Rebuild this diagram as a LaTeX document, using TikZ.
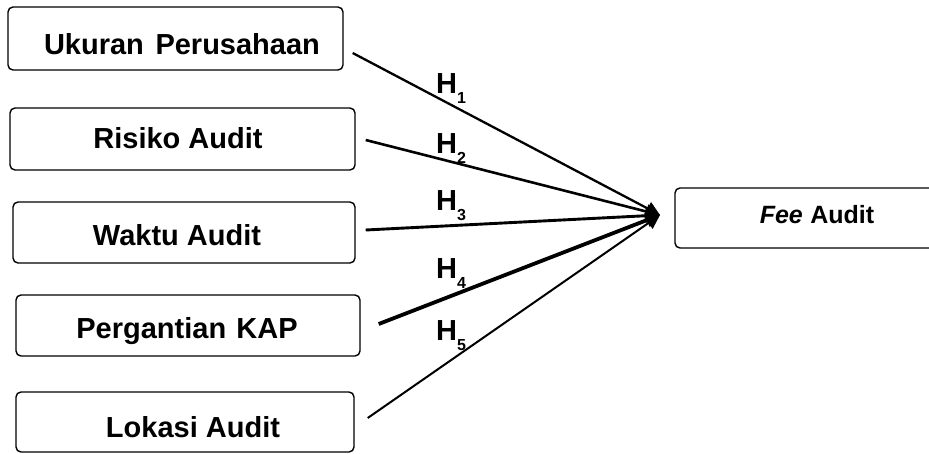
\documentclass[tikz,border=0pt]{standalone}
\usepackage{fontspec}
\setmainfont{Liberation Sans}
\usetikzlibrary{arrows.meta,calc}
\tikzset{
  box/.style={draw=black, line width=1.4pt, rounded corners=5pt, inner sep=0pt, fill=white},
  lbl/.style={font=\fontsize{29}{29}\selectfont\bfseries, inner sep=0pt, anchor=base},
  hyp/.style={font=\fontsize{29}{29}\selectfont\bfseries, inner sep=0pt, anchor=base west},
  conn/.style={draw=black, -{Triangle[length=14pt,width=14pt]}},
}
\newcommand{\hlab}[1]{H\raisebox{-10pt}{\fontsize{16}{16}\selectfont\bfseries #1}}
\begin{document}
\begin{tikzpicture}[x=1pt,y=-1pt]
\useasboundingbox (0,0) rectangle (929,453);
% boxes
\node[box, minimum width=335pt, minimum height=63pt] (n1) at (175.5,38.5) {};
\node[box, minimum width=345pt, minimum height=62pt] (n2) at (182.5,139) {};
\node[box, minimum width=342pt, minimum height=61pt] (n3) at (184,232.5) {};
\node[box, minimum width=344pt, minimum height=61pt] (n4) at (188,325.5) {};
\node[box, minimum width=338pt, minimum height=60pt] (n5) at (185,422) {};
\node[box, minimum width=262pt, minimum height=60pt] (fee) at (806,218) {};
% texts
\node[lbl] (t1) at (182,54) {Ukuran\hspace{0.4em}Perusahaan};
\node[lbl] (t2) at (178,148) {Risiko Audit};
\node[lbl] (t3) at (177,245) {Waktu Audit};
\node[lbl] (t4) at (187,338) {Pergantian\hspace{0.35em}KAP};
\node[lbl] (t5) at (193,437) {Lokasi Audit};
\node[lbl, font=\fontsize{25}{25}\selectfont\bfseries] (tf) at (817,223) {\textit{Fee}\hspace{0.3em}Audit};
% connector points
\coordinate (tip) at (660,215);
\coordinate (s1) at ($(n1.east)+(9,14.5)$);
\coordinate (s2) at ($(n2.east)+(10,1)$);
\coordinate (s3) at ($(n3.east)+(10,-2.5)$);
\coordinate (s4) at ($(n4.east)+(18,-1.5)$);
\coordinate (s5) at ($(n5.east)+(13,-4)$);
\draw[conn, line width=2.3pt] (s1) -- (tip);
\draw[conn, line width=2.6pt] (s2) -- (tip);
\draw[conn, line width=2.9pt] (s3) -- (tip);
\draw[conn, line width=3.8pt] (s4) -- (tip);
\draw[conn, line width=2pt] (s5) -- (tip);
% hypothesis labels
\node[hyp] (h1) at (436,93) {\hlab{1}};
\node[hyp] (h2) at (436,153) {\hlab{2}};
\node[hyp] (h3) at (436,210) {\hlab{3}};
\node[hyp] (h4) at (436,278) {\hlab{4}};
\node[hyp] (h5) at (436,340) {\hlab{5}};
\end{tikzpicture}
\end{document}
